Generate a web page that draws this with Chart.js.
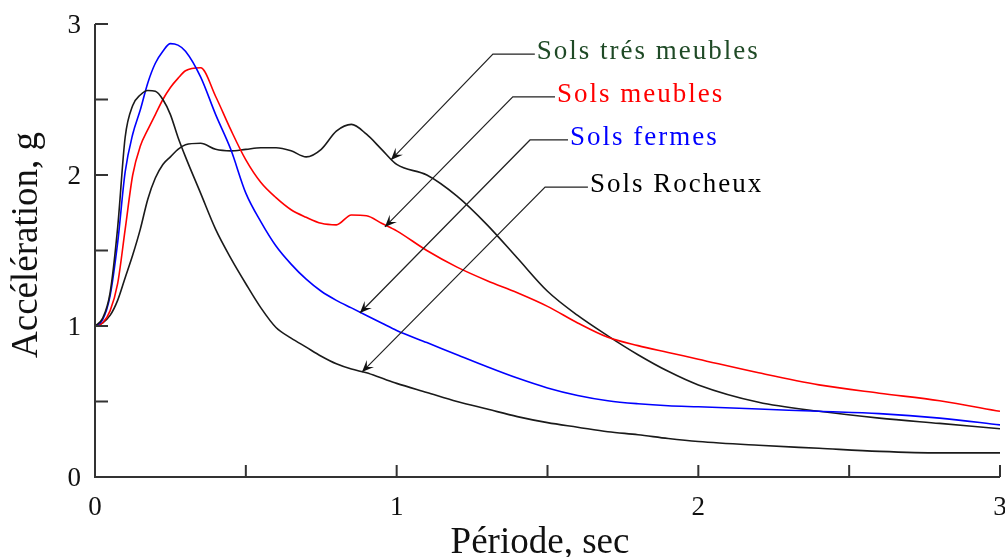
<!DOCTYPE html>
<html>
<head>
<meta charset="utf-8">
<script src="https://cdn.jsdelivr.net/npm/chart.js@4"></script>
<style>
    body { margin: 0; background: #fff; }
    #box { width: 1005px; height: 557px; }
</style>
</head>
<body>
<div id="box"><canvas id="spectreCanvas" width="1005" height="557"></canvas></div>
<script>
// Période (s) - same sampling for every soil class
let periods = [0, 0.025, 0.05, 0.075, 0.1, 0.125, 0.15, 0.175, 0.2, 0.225, 0.25, 0.275, 0.3, 0.35,
    0.4, 0.45, 0.5, 0.55, 0.6, 0.65, 0.7, 0.75, 0.8, 0.85, 0.9, 0.95, 1.0, 1.1, 1.2, 1.3, 1.4,
    1.5, 1.6, 1.7, 1.8, 1.9, 2.0, 2.2, 2.4, 2.6, 2.8, 3.0];

// Accélération (g)
let solsRocheux = [1.0, 1.05, 1.22, 1.65, 2.25, 2.46, 2.53, 2.56, 2.555, 2.50, 2.40, 2.25, 2.12, 1.88,
    1.64, 1.45, 1.28, 1.12, 0.99, 0.92, 0.86, 0.80, 0.75, 0.715, 0.69, 0.655, 0.62, 0.56, 0.50, 0.45, 0.40,
    0.36, 0.33, 0.30, 0.28, 0.255, 0.235, 0.21, 0.19, 0.17, 0.16, 0.16];

let solsFermes = [1.0, 1.04, 1.2, 1.55, 2.02, 2.27, 2.43, 2.61, 2.74, 2.82, 2.87, 2.86, 2.82, 2.65,
    2.40, 2.17, 1.88, 1.69, 1.53, 1.41, 1.31, 1.23, 1.17, 1.12, 1.07, 1.02, 0.97, 0.89, 0.81, 0.73, 0.655,
    0.59, 0.54, 0.505, 0.485, 0.472, 0.465, 0.45, 0.435, 0.42, 0.39, 0.345];

let solsMeubles = [1.0, 1.02, 1.1, 1.28, 1.64, 2.0, 2.19, 2.30, 2.40, 2.50, 2.58, 2.64, 2.69, 2.71,
    2.52, 2.30, 2.10, 1.95, 1.85, 1.77, 1.72, 1.68, 1.67, 1.735, 1.73, 1.68, 1.63, 1.50, 1.39, 1.30, 1.22,
    1.13, 1.02, 0.925, 0.87, 0.825, 0.78, 0.69, 0.61, 0.555, 0.505, 0.435];

let solsTresMeubles = [1.0, 1.02, 1.07, 1.17, 1.32, 1.47, 1.64, 1.84, 1.98, 2.07, 2.12, 2.17, 2.20, 2.21,
    2.17, 2.16, 2.17, 2.18, 2.18, 2.16, 2.12, 2.17, 2.29, 2.335, 2.27, 2.17, 2.07, 2.00, 1.86, 1.67, 1.45,
    1.23, 1.07, 0.935, 0.81, 0.70, 0.61, 0.495, 0.435, 0.39, 0.355, 0.32];

let xTickLabels = ['0', '1', '2', '3'];
let yTickLabels = ['0', '1', '2', '3'];

// leader lines: label end -> elbow -> arrow tip (data units)
let labelNames = ['Sols trés meubles', 'Sols meubles', 'Sols fermes', 'Sols Rocheux'];
let labelColors = ['#1f4a26', '#ff0000', '#0000ff', '#000000'];
let leaderX = [[1.458, 1.319, 0.981], [1.525, 1.385, 0.961], [1.568, 1.442, 0.878], [1.634, 1.492, 0.885]];
let leaderY = [[2.80, 2.80, 2.10], [2.517, 2.517, 1.656], [2.232, 2.232, 1.086], [1.92, 1.92, 0.695]];

function toPoints(ys) {
    return periods.map(function (p, i) { return { x: p, y: ys[i] }; });
}

function drawArrow(ctx, fromX, fromY, tipX, tipY) {
    let a = Math.atan2(tipY - fromY, tipX - fromX);
    let len = 13, spread = 0.4;
    ctx.beginPath();
    ctx.moveTo(tipX, tipY);
    ctx.lineTo(tipX - len * Math.cos(a - spread), tipY - len * Math.sin(a - spread));
    ctx.lineTo(tipX - 7 * Math.cos(a), tipY - 7 * Math.sin(a));
    ctx.lineTo(tipX - len * Math.cos(a + spread), tipY - len * Math.sin(a + spread));
    ctx.closePath();
    ctx.fill();
}

const whiteBg = {
    id: 'whiteBg',
    beforeDraw(chart) {
        let c = chart.ctx;
        c.save();
        c.fillStyle = '#fff';
        c.fillRect(0, 0, chart.width, chart.height);
        c.restore();
    }
};

// axes with inward ticks, serif labels and titles
const axesPlugin = {
    id: 'axesPlugin',
    afterDraw(chart) {
        let c = chart.ctx;
        let xs = chart.scales.x, ys = chart.scales.y;
        let left = xs.getPixelForValue(0), right = xs.getPixelForValue(3);
        let bottom = ys.getPixelForValue(0), top = ys.getPixelForValue(3);

        c.save();
        c.strokeStyle = '#333';
        c.lineWidth = 2;
        c.beginPath();
        c.moveTo(left, top);
        c.lineTo(left, bottom);
        c.lineTo(right, bottom);
        c.stroke();

        c.beginPath();
        for (let v = 0.5; v <= 3; v += 0.5) {
            let px = xs.getPixelForValue(v);
            c.moveTo(px, bottom);
            c.lineTo(px, bottom - 12);
            let py = ys.getPixelForValue(v);
            c.moveTo(left, py);
            c.lineTo(left + 13, py);
        }
        c.stroke();

        c.fillStyle = '#111';
        c.font = '27px "Liberation Serif", "Times New Roman", serif';
        c.textBaseline = 'middle';
        c.textAlign = 'right';
        yTickLabels.forEach(function (t) {
            c.fillText(t, left - 14, ys.getPixelForValue(Number(t)) + 2);
        });
        c.textAlign = 'center';
        xTickLabels.forEach(function (t) {
            c.fillText(t, xs.getPixelForValue(Number(t)), bottom + 31);
        });

        c.font = '37px "Liberation Serif", "Times New Roman", serif';
        c.textBaseline = 'alphabetic';
        c.fillText('Période, sec', 540, 553);
        c.translate(37, 245);
        c.rotate(-Math.PI / 2);
        c.fillText('Accélération, g', 0, 0);
        c.restore();
    }
};

const leaderPlugin = {
    id: 'leaderPlugin',
    afterDraw(chart) {
        let c = chart.ctx;
        let xs = chart.scales.x, ys = chart.scales.y;
        c.save();
        for (let i = 0; i < labelNames.length; i++) {
            let pts = leaderX[i].map(function (v, k) {
                return [xs.getPixelForValue(v), ys.getPixelForValue(leaderY[i][k])];
            });
            c.strokeStyle = '#222';
            c.fillStyle = '#111';
            c.lineWidth = 1.2;
            c.beginPath();
            c.moveTo(pts[0][0], pts[0][1]);
            c.lineTo(pts[1][0], pts[1][1]);
            c.lineTo(pts[2][0], pts[2][1]);
            c.stroke();
            drawArrow(c, pts[1][0], pts[1][1], pts[2][0], pts[2][1]);

            c.font = '27px "Liberation Serif", "Times New Roman", serif';
            c.letterSpacing = '2px';
            c.fillStyle = labelColors[i];
            c.textAlign = 'left';
            c.textBaseline = 'middle';
            c.fillText(labelNames[i], pts[0][0] + 2, pts[0][1] - 2);
        }
        c.restore();
    }
};

function lineSet(label, ys, color) {
    return {
        label: label,
        data: toPoints(ys),
        borderColor: color,
        borderWidth: 1.6,
        pointRadius: 0,
        cubicInterpolationMode: 'monotone',
        fill: false
    };
}

let ctx = document.getElementById('spectreCanvas').getContext('2d');
let chart = new Chart(ctx, {
    type: 'line',
    data: {
        datasets: [
            lineSet('Sols Rocheux', solsRocheux, '#1a1a1a'),
            lineSet('Sols fermes', solsFermes, '#0000ff'),
            lineSet('Sols meubles', solsMeubles, '#ff0000'),
            lineSet('Sols trés meubles', solsTresMeubles, '#1a1a1a')
        ]
    },
    options: {
        responsive: false,
        animation: false,
        layout: {
            padding: { left: 95, right: 5, top: 24, bottom: 80 }
        },
        scales: {
            x: { type: 'linear', min: 0, max: 3, display: false },
            y: { type: 'linear', min: 0, max: 3, display: false }
        },
        plugins: {
            legend: { display: false },
            tooltip: { enabled: false }
        }
    },
    plugins: [whiteBg, axesPlugin, leaderPlugin]
});
</script>
</body>
</html>
